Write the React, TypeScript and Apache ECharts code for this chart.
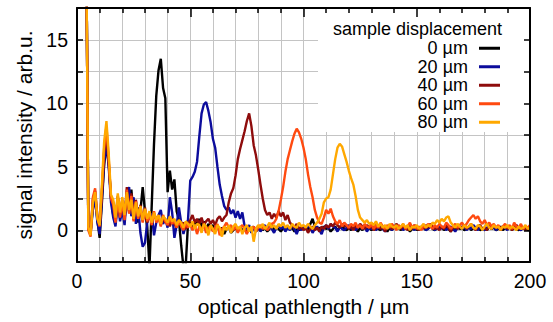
import React, { useEffect, useRef } from "react";
import * as echarts from "echarts";

const FONT = '"Liberation Sans", Arial, Helvetica, sans-serif';

// sampling: x = X_START + index * X_STEP (µm)
const X_START = 4;
const X_STEP = 1;

const SERIES_NAMES = ["0 µm", "20 µm", "40 µm", "60 µm", "80 µm"];
const SERIES_COLORS = ["#000000", "#0c0c9c", "#8e0c0c", "#ff4a10", "#ffa800"];

const S0 = [
  // 4-9
  25, 0.4, -0.1, 1.8, 2.7, 0.8,
  // 10-19
  -0.6, 2.2, 5.2, 6.7, 5.2, 2.6, 1.2, 0.5, 2.6, 1.0,
  // 20-29
  2.0, 0.8, 3.0, 1.4, 3.2, 1.2, 2.0, 0.6, 1.5, 3.4,
  // 30-39
  1.5, 0.3, -2.9, 2.0, 6.8, 10.6, 12.6, 13.5, 11.2, 10.4,
  // 40-49
  3.0, 4.7, 3.2, 4.0, 1.5, 0.8, -1.2, -2.9, -2.8, 0.5,
  // 50-59
  0.6, 0.2, 0.8, 0.4, 0.9, 0.3, 0.7, 0.1, 0.5, 0.2,
  // 60-69
  0.4, -0.1, 0.3, 0.0, 0.2, -0.3, 0.1, 0.3, -0.2, 0.0,
  // 70-79
  0.2, -0.1, 0.3, 0.0, 0.1, -0.2, 0.2, 0.0, 0.3, -0.1,
  // 80-89
  0.1, 0.3, 0.0, 0.2, -0.1, 0.1, 0.4, 0.0, 0.2, 0.1,
  // 90-99
  -0.1, 0.2, 0.0, 0.3, 0.1, 0.2, -0.1, 0.1, 0.0, 0.2,
  // 100-109
  0.1, 0.3, 0.0, 0.5, 0.9, 0.3, 0.1, 0.2, 0.0, 0.3,
  // 110-119
  0.1, 0.2, -0.1, 0.1, 0.3, 0.0, 0.2, 0.4, 0.1, 0.0,
  // 120-129
  0.2, 0.0, 0.3, 0.1, -0.1, 0.2, 0.0, 0.3, 0.1, 0.2,
  // 130-139
  0.0, 0.2, 0.4, 0.1, 0.0, 0.3, 0.1, -0.1, 0.2, 0.0,
  // 140-149
  0.3, 0.1, 0.2, 0.0, 0.4, 0.1, 0.2, -0.1, 0.1, 0.3,
  // 150-159
  0.0, 0.2, 0.1, 0.3, 0.0, 0.2, 0.4, 0.1, 0.0, 0.2,
  // 160-169
  0.1, 0.3, 0.0, 0.2, 0.1, -0.1, 0.2, 0.0, 0.3, 0.1,
  // 170-179
  0.2, 0.0, 0.1, 0.3, 0.0, 0.2, 0.1, 0.3, 0.0, 0.1,
  // 180-189
  0.2, 0.0, 0.3, 0.1, 0.2, 0.0, 0.1, 0.3, 0.0, 0.2,
  // 190-199
  0.1, 0.3, 0.0, 0.2, 0.1, 0.0, 0.2, 0.1, 0.3, 0.0,
  // 200
  0.1,
];

const S20 = [
  // 4-9
  25, 0.3, -0.2, 1.6, 2.5, 0.6,
  // 10-19
  -0.3, 2.5, 5.4, 6.9, 5.0, 2.2, 1.0, 0.3, 2.3, 0.7,
  // 20-29
  1.6, 0.4, 2.8, 3.4, 1.1, 2.6, 0.5, 1.8, -0.2, -1.3,
  // 30-39
  -1.0, 0.6, 1.2, 1.3, -0.4, 0.6, 1.2, 1.6, 0.5, 0.9,
  // 40-49
  0.2, 2.6, 1.4, -0.6, 0.4, 1.8, 0.6, -0.3, 0.4, 0.8,
  // 50-59
  3.9, 4.2, 4.6, 5.4, 7.4, 9.2, 9.9, 10.1, 9.4, 8.5,
  // 60-69
  7.2, 6.5, 5.0, 3.6, 2.7, 1.9, 1.6, 1.8, 1.3, 1.6,
  // 70-79
  1.0, 1.5, 0.9, 1.4, 0.3, 0.1, 0.4, -0.2, 0.2, 0.0,
  // 80-89
  0.3, -0.1, 0.2, 0.4, 0.0, 0.3, 0.1, -0.2, 0.2, 0.4,
  // 90-99
  0.1, 0.3, -0.1, 0.2, 0.0, 0.4, 0.1, -0.3, 0.2, 0.0,
  // 100-109
  0.3, 0.1, 0.4, 0.2, -0.2, 0.1, 0.3, 0.0, -0.3, 0.2,
  // 110-119
  0.4, 0.1, 0.5, 0.3, 0.2, -0.1, 0.3, 0.1, 0.0, 0.2,
  // 120-129
  0.4, 0.1, 0.3, 0.0, 0.2, 0.4, 0.1, 0.3, -0.1, 0.2,
  // 130-139
  0.1, 0.3, 0.0, 0.2, 0.4, 0.1, -0.1, 0.2, 0.3, 0.0,
  // 140-149
  0.2, 0.4, 0.1, 0.3, 0.0, 0.2, 0.1, 0.4, 0.2, 0.0,
  // 150-159
  0.3, 0.1, 0.2, 0.4, 0.0, 0.1, 0.3, 0.2, 0.0, 0.2,
  // 160-169
  0.4, 0.1, 0.3, 0.0, 0.2, 0.3, 0.1, -0.1, 0.2, 0.4,
  // 170-179
  0.1, 0.3, 0.0, 0.2, 0.1, 0.4, 0.2, 0.0, 0.3, 0.1,
  // 180-189
  0.0, 0.2, 0.4, 0.1, 0.3, 0.0, 0.2, 0.1, 0.3, 0.2,
  // 190-199
  0.0, 0.3, 0.1, 0.2, 0.4, 0.1, 0.0, 0.2, 0.3, 0.1,
  // 200
  0.2,
];

const S40 = [
  // 4-9
  25, 0.1, -0.3, 2.4, 3.1, 1.1,
  // 10-19
  0.4, 3.0, 6.2, 7.6, 5.4, 2.6, 2.2, 0.8, 2.7, 1.2,
  // 20-29
  2.4, 1.0, 3.4, 1.5, 2.9, 0.8, 2.4, 1.0, 2.0, 0.7,
  // 30-39
  1.8, 0.6, 1.4, 0.5, 1.3, 0.9, 1.1, 0.4, 1.0, 0.6,
  // 40-49
  0.8, 0.3, 0.9, 0.5, 0.2, 0.8, 0.4, 0.6, 0.1, 0.5,
  // 50-59
  0.8, 1.2, 0.6, 0.9, 0.5, 1.0, 0.4, 0.7, 0.9, 0.5,
  // 60-69
  0.8, 0.4, 0.9, 1.1, 0.7, 1.0, 1.2, 2.2, 2.9, 3.3,
  // 70-79
  4.3, 5.6, 6.4, 7.1, 7.8, 8.6, 9.2, 8.2, 6.7, 5.9,
  // 80-89
  4.8, 3.6, 2.5, 1.6, 1.2, 1.4, 0.9, 1.3, 1.0, 1.5,
  // 90-99
  1.1, 1.4, 0.8, 1.2, 0.6, 0.4, 0.2, 0.5, 0.1, 0.3,
  // 100-109
  0.0, 0.2, -0.2, 0.1, 0.3, 0.0, 0.2, -0.1, 0.3, 0.1,
  // 110-119
  0.4, 0.2, 0.5, 0.3, 0.6, 0.4, 0.2, 0.5, 0.3, 0.4,
  // 120-129
  0.1, 0.3, 0.0, 0.4, 0.2, 0.5, 0.3, 0.1, 0.4, 0.2,
  // 130-139
  0.3, 0.0, 0.2, 0.4, 0.1, 0.3, -0.1, 0.2, 0.4, 0.1,
  // 140-149
  0.2, 0.5, 0.3, 0.1, 0.4, 0.2, 0.0, 0.3, 0.1, 0.4,
  // 150-159
  0.2, 0.0, 0.3, 0.1, 0.4, 0.2, 0.5, 0.3, 0.1, 0.2,
  // 160-169
  0.0, 0.3, 0.1, 0.4, 0.2, -0.1, 0.2, 0.4, 0.1, 0.3,
  // 170-179
  0.2, 0.4, 0.1, 0.3, 0.5, 0.2, 0.0, 0.3, 0.4, 0.1,
  // 180-189
  0.2, 0.0, 0.3, 0.1, 0.4, 0.2, 0.3, 0.0, 0.2, 0.4,
  // 190-199
  0.1, 0.3, 0.0, 0.2, 0.4, 0.1, 0.3, 0.2, 0.0, 0.2,
  // 200
  0.1,
];

const S60 = [
  // 4-9
  25, 0.0, -0.5, 2.6, 3.3, 1.0,
  // 10-19
  0.3, 3.2, 6.5, 8.2, 5.6, 2.5, 2.0, 0.6, 2.5, 1.0,
  // 20-29
  2.3, 0.8, 3.2, 1.3, 2.7, 0.7, 2.3, 0.9, 1.8, 0.6,
  // 30-39
  1.6, 0.7, 1.3, 0.4, 1.5, 0.6, 1.0, 0.3, 1.2, 0.7,
  // 40-49
  0.4, 1.0, 0.5, 0.8, 0.2, 0.7, 0.3, 0.0, 0.6, 0.2,
  // 50-59
  0.5, 0.0, 0.4, -0.3, 0.3, 0.1, 0.4, -0.2, 0.2, 0.3,
  // 60-69
  -0.1, 0.2, 0.5, -0.4, 0.1, 0.3, 0.6, 0.2, 0.4, 0.0,
  // 70-79
  0.3, -0.2, 0.2, 0.4, 0.1, -0.3, 0.2, 0.0, 0.3, -0.1,
  // 80-89
  0.2, 0.4, 0.1, 0.3, 0.0, 0.2, 0.5, 0.6, 0.9, 1.5,
  // 90-99
  2.4, 3.4, 4.6, 5.6, 6.3, 7.0, 7.6, 8.0, 7.7, 7.2,
  // 100-109
  6.5, 5.6, 4.4, 3.4, 2.6, 1.6, 1.0, 0.6, 0.5, 1.0,
  // 110-119
  1.6, 1.3, 1.7, 1.1, 0.7, 0.5, 0.8, 0.3, 0.6, 0.4,
  // 120-129
  0.2, 0.5, 0.3, 0.6, 0.2, 0.4, 0.1, 0.5, 0.3, 0.2,
  // 130-139
  0.5, 0.1, 0.4, 0.2, 0.6, 0.3, 0.1, 0.4, 0.2, 0.5,
  // 140-149
  0.3, 0.0, 0.4, 0.2, 0.5, 0.1, 0.3, 0.6, 0.2, 0.4,
  // 150-159
  0.1, 0.3, 0.0, 0.4, 0.2, 0.5, 0.3, 0.1, 0.4, 0.2,
  // 160-169
  0.5, 0.3, 0.2, 0.6, 0.4, 0.1, 0.3, 0.5, 0.2, 0.4,
  // 170-179
  0.6, 0.3, 0.5, 0.8, 1.0, 1.2, 0.9, 1.1, 0.7, 0.5,
  // 180-189
  0.8, 0.4, 0.6, 0.3, 0.5, 0.2, 0.4, 0.1, 0.3, 0.5,
  // 190-199
  0.2, 0.4, 0.1, 0.6, 0.3, 0.2, 0.5, 0.1, 0.3, 0.2,
  // 200
  0.4,
];

const S80 = [
  // 4-9
  25, 0.2, -0.4, 2.2, 3.0, 0.9,
  // 10-19
  0.4, 3.6, 7.0, 8.6, 6.0, 2.8, 2.4, 1.0, 2.9, 1.4,
  // 20-29
  2.6, 1.2, 3.0, 1.6, 2.4, 0.9, 2.2, 1.1, 1.9, 0.8,
  // 30-39
  1.7, 0.9, 1.5, 0.6, 1.4, 0.8, 1.2, 0.5, 1.1, 0.9,
  // 40-49
  0.6, 1.1, 0.7, 0.9, 0.4, 0.8, 0.6, 0.2, 0.7, 0.5,
  // 50-59
  0.3, 0.7, 0.1, 0.5, 0.4, -0.2, 0.5, 0.3, -0.4, 0.4,
  // 60-69
  0.1, -0.3, 0.4, 0.2, -0.5, 0.3, 0.0, 0.4, -0.2, 0.3,
  // 70-79
  0.5, 0.1, 0.3, -0.3, 0.2, 0.4, -0.1, 0.3, -0.9, 0.1,
  // 80-89
  0.4, 0.2, 0.5, 0.1, 0.3, 0.6, 0.2, 0.4, 0.1, 0.5,
  // 90-99
  0.3, 0.6, 0.2, 0.4, 0.1, 0.5, 0.3, 0.2, 0.6, 0.3,
  // 100-109
  0.4, 0.2, 0.5, 0.3, 0.1, 0.4, 0.6, 0.9, 1.3, 2.2,
  // 110-119
  2.5, 2.6, 3.2, 4.4, 5.6, 6.5, 6.8, 6.6, 6.0, 5.4,
  // 120-129
  4.7, 4.1, 3.6, 2.7, 1.6, 1.0, 0.8, 0.6, 0.8, 0.5,
  // 130-139
  0.6, 0.4, 0.7, 0.3, 0.5, 0.2, 0.4, 0.1, 0.5, 0.3,
  // 140-149
  0.2, 0.4, 0.1, 0.3, 0.5, 0.2, 0.4, 0.0, 0.3, 0.2,
  // 150-159
  0.4, 0.1, 0.3, 0.5, 0.2, 0.4, 0.3, 0.6, 0.5, 0.8,
  // 160-169
  0.6, 0.9, 0.7, 1.0, 1.1, 0.6, 0.4, 0.2, 0.5, 0.3,
  // 170-179
  0.1, 0.4, 0.2, 0.3, 0.5, 0.2, 0.1, 0.4, 0.3, 0.0,
  // 180-189
  0.3, 0.5, 0.2, 0.1, 0.4, 0.2, 0.3, 0.0, 0.3, 0.2,
  // 190-199
  0.4, 0.1, 0.3, 0.2, 0.0, 0.3, 0.1, 0.2, 0.4, 0.1,
  // 200
  0.2,
];

const SERIES_VALUES = [S0, S20, S40, S60, S80];

const toPairs = (vals: number[]) => vals.map((v, i) => [X_START + i * X_STEP, v]);

export default function App() {
  const ref = useRef<HTMLDivElement>(null);

  useEffect(() => {
    if (!ref.current) return;
    const chart = echarts.init(ref.current, null, { renderer: "svg" });

    const axisLineStyle = { color: "#000", width: 2 };
    const tickStyle = { color: "#000", width: 1.5 };
    const gridStyle = { color: "#c4c4c4", width: 1 };
    const tickLabelStyle = { fontSize: 19.5, color: "#000", fontFamily: FONT };
    const titleStyle = { fontSize: 21, color: "#000", fontFamily: FONT };

    const option: any = {
      animation: false,
      backgroundColor: "#ffffff",
      grid: { left: 77, right: 23, top: 8, bottom: 60 },
      xAxis: [
        {
          type: "value",
          min: 0,
          max: 200,
          interval: 50,
          position: "bottom",
          axisLine: { show: true, onZero: false, lineStyle: axisLineStyle },
          axisTick: { show: true, inside: true, length: 9, lineStyle: tickStyle },
          minorTick: { show: true, splitNumber: 5, length: 5, lineStyle: tickStyle },
          splitLine: { show: true, lineStyle: gridStyle },
          minorSplitLine: { show: true, lineStyle: gridStyle },
          axisLabel: { ...tickLabelStyle, margin: 9 },
          name: "optical pathlength / µm",
          nameLocation: "middle",
          nameGap: 32,
          nameTextStyle: titleStyle,
        },
        {
          type: "value",
          min: 0,
          max: 200,
          interval: 50,
          position: "top",
          z: 5,
          axisLine: { show: true, onZero: false, lineStyle: axisLineStyle },
          axisTick: { show: true, inside: true, length: 9, lineStyle: tickStyle },
          minorTick: { show: true, splitNumber: 5, length: 5, lineStyle: tickStyle },
          splitLine: { show: false },
          axisLabel: { show: false },
        },
      ],
      yAxis: [
        {
          type: "value",
          min: -2.5,
          max: 17.5,
          interval: 2.5,
          position: "left",
          axisLine: { show: true, onZero: false, lineStyle: axisLineStyle },
          axisTick: { show: true, inside: true, length: 6, lineStyle: tickStyle },
          splitLine: { show: true, lineStyle: gridStyle },
          axisLabel: {
            ...tickLabelStyle,
            margin: 9,
            formatter: (v: number) => (Math.abs(v % 5) < 1e-9 ? String(v) : ""),
          },
          name: "signal intensity / arb.u.",
          nameLocation: "middle",
          nameGap: 40,
          nameRotate: 90,
          nameTextStyle: titleStyle,
        },
        {
          type: "value",
          min: -2.5,
          max: 17.5,
          interval: 2.5,
          position: "right",
          z: 5,
          axisLine: { show: true, onZero: false, lineStyle: axisLineStyle },
          axisTick: { show: true, inside: true, length: 6, lineStyle: tickStyle },
          splitLine: { show: false },
          axisLabel: { show: false },
        },
      ],
      legend: {
        data: SERIES_NAMES,
        orient: "vertical",
        right: 53,
        top: 39,
        align: "right",
        icon: "rect",
        itemWidth: 21,
        itemHeight: 3,
        itemGap: 0,
        padding: 0,
        z: 6,
        selectedMode: false,
        textStyle: {
          fontSize: 18,
          fontFamily: FONT,
          color: "#000",
          lineHeight: 18.5,
          padding: [0, 6, 0, 0],
        },
      },
      graphic: [
        {
          type: "rect",
          z: 1,
          silent: true,
          shape: { x: 318, y: 9, width: 211, height: 123 },
          style: { fill: "#ffffff" },
        },
        {
          type: "text",
          z: 6,
          x: 502,
          y: 29,
          style: {
            text: "sample displacement",
            fontSize: 18,
            fontFamily: FONT,
            fill: "#000",
            align: "right",
            verticalAlign: "middle",
          },
        },
      ],
      series: SERIES_VALUES.map((vals, i) => ({
        name: SERIES_NAMES[i],
        type: "line",
        xAxisIndex: 0,
        yAxisIndex: 0,
        data: toPairs(vals),
        showSymbol: false,
        symbol: "none",
        clip: true,
        color: SERIES_COLORS[i],
        lineStyle: { color: SERIES_COLORS[i], width: 2.4 },
        emphasis: { disabled: true },
        z: 2 + i * 0.01,
      })),
    };

    chart.setOption(option);
    return () => chart.dispose();
  }, []);

  return (
    <div
      ref={ref}
      style={{ position: "absolute", left: 0, top: 0, width: 553, height: 322, background: "#fff" }}
    />
  );
}
